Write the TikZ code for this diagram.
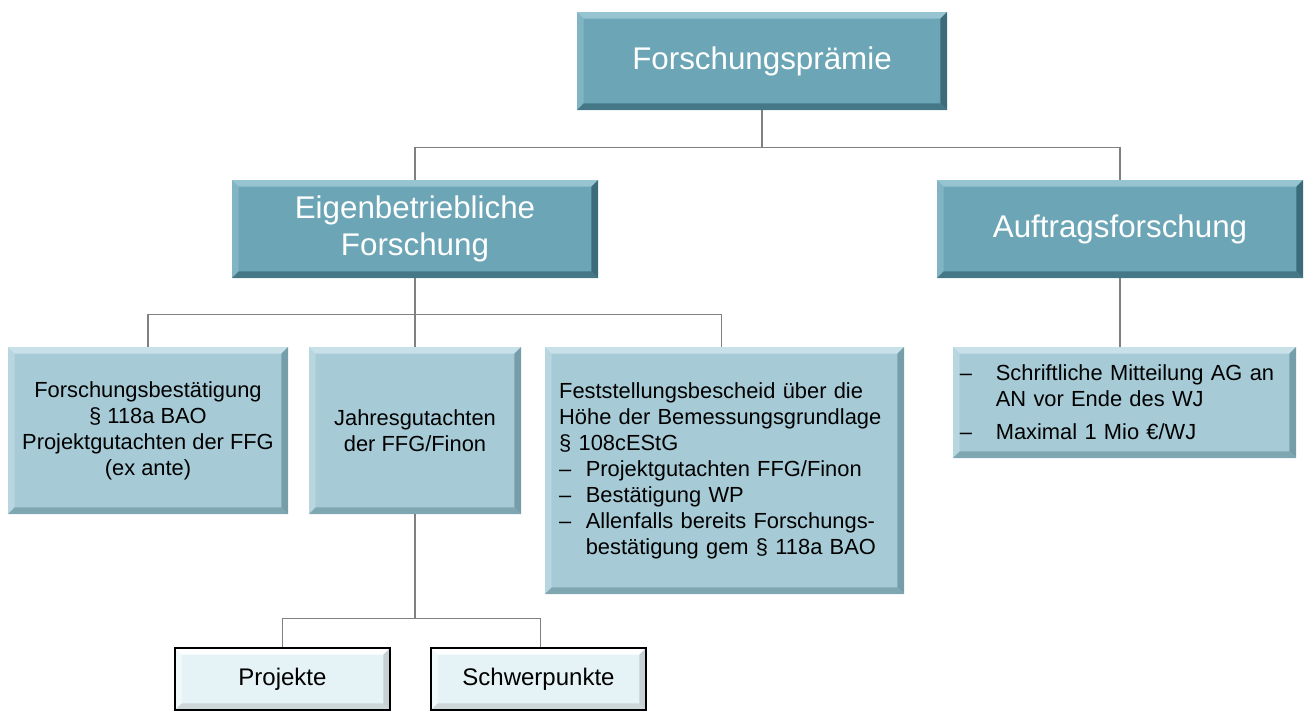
\documentclass[tikz,border=0pt]{standalone}
\usepackage{fontspec}
\setmainfont{Liberation Sans}
\usetikzlibrary{positioning}

\definecolor{tealmain}{RGB}{108,166,182}
\definecolor{teallight}{RGB}{150,196,208}
\definecolor{tealdark}{RGB}{60,108,122}
\definecolor{paleblue}{RGB}{166,203,214}
\definecolor{palelight}{RGB}{200,225,232}
\definecolor{paledark}{RGB}{118,158,170}
\definecolor{icefill}{RGB}{230,243,246}
\definecolor{linkgray}{RGB}{128,128,128}

\newcommand\headfont{\fontsize{23.5}{27.75}\selectfont}
\newcommand\bodyfont{\fontsize{16.4}{19.5}\selectfont}
\newcommand\leaffont{\fontsize{18}{21}\selectfont}
\newcommand\bul{\makebox[20pt][l]{--}}
\newcommand\bulw{\makebox[27pt][l]{--}}

\tikzset{
  bevel/.style 2 args = {path picture={
      \fill[#1] (path picture bounding box.north west) -- (path picture bounding box.north east)
        -- ([shift={(-5pt,-5pt)}]path picture bounding box.north east)
        -- ([shift={(5pt,-5pt)}]path picture bounding box.north west) -- cycle;
      \fill[#1,opacity=.5] (path picture bounding box.north west) -- ([shift={(5pt,-5pt)}]path picture bounding box.north west)
        -- ([shift={(5pt,5pt)}]path picture bounding box.south west) -- (path picture bounding box.south west) -- cycle;
      \fill[#2] (path picture bounding box.north east) -- (path picture bounding box.south east)
        -- ([shift={(-5pt,5pt)}]path picture bounding box.south east)
        -- ([shift={(-5pt,-5pt)}]path picture bounding box.north east) -- cycle;
      \fill[#2,opacity=.8] (path picture bounding box.south west) -- (path picture bounding box.south east)
        -- ([shift={(-5pt,5pt)}]path picture bounding box.south east)
        -- ([shift={(5pt,5pt)}]path picture bounding box.south west) -- cycle;
    }},
  box/.style      = {shape=rectangle, inner sep=0pt, align=center},
  head/.style     = {box, fill=tealmain, bevel={teallight}{tealdark}, text=white, font=\headfont,
                     minimum width=274.5pt, minimum height=73.5pt},
  detail/.style   = {box, fill=paleblue, bevel={palelight}{paledark}, text=black, font=\bodyfont,
                     minimum height=125.25pt},
  leaf/.style     = {box, fill=icefill, bevel={white}{icefill!70!gray}, draw=black, line width=1.5pt,
                     font=\leaffont, minimum width=161.25pt, minimum height=46.5pt},
  link/.style     = {draw=linkgray, line width=0.8pt}
}

\begin{document}
\begin{tikzpicture}[x=0.75pt, y=-0.75pt]
  \useasboundingbox (0,0) rectangle (1306,715);

  % top level
  \node [head, minimum width=277.5pt] (praemie) at (762,61) {Forschungspr\"amie};
  \node [head] (eigen)   at (415,229) {Eigenbetriebliche\\Forschung};
  \node [head] (auftrag) at (1120,229) {Auftragsforschung};

  % details
  \node [detail, minimum width=210pt] (bestaetigung) at (148,430.5)
    {Forschungsbest\"atigung\\\S\ 118a BAO\\Projektgutachten der FFG\\(ex ante)};
  \node [detail, minimum width=159pt] (jahres) at (415,430.5)
    {Jahresgutachten\\der FFG/Finon};
  \node [detail, minimum width=269.25pt, minimum height=185.25pt, align=left,
         text width=248pt, inner xsep=10.5pt] (bescheid) at (724.5,470.5)
    {Feststellungsbescheid \"uber die\\
     H\"ohe der Bemessungsgrundlage\\
     \S\ 108cEStG\\
     \bul Projektgutachten FFG/Finon\\
     \bul Best\"atigung WP\\
     \bul Allenfalls bereits Forschungs-\\
     \hspace*{20pt}best\"atigung gem \S\ 118a BAO};
  \node [detail, minimum width=257.25pt, minimum height=83.25pt, align=left,
         text width=247pt, inner xsep=5pt] (mitteilung) at (1124.5,402.5)
    {\bulw Schriftliche Mitteilung AG an\\
     \hspace*{27pt}AN vor Ende des WJ\\[5pt]
     \bulw Maximal 1 Mio \texteuro/WJ};

  % leaves
  \node [leaf] (projekte)     at (282.5,679) {Projekte};
  \node [leaf] (schwerpunkte) at (538.5,679) {Schwerpunkte};

  % connectors
  \draw [link] (praemie.south) -- ++(0,37) coordinate (j1);
  \draw [link] (j1) -| (eigen.north);
  \draw [link] (j1) -| (auftrag.north);
  \draw [link] (eigen.south) -- ++(0,36) coordinate (j2);
  \draw [link] (j2) -| (bestaetigung.north);
  \draw [link] (j2) -- (jahres.north);
  \draw [link] (j2) -| ([xshift=-2]bescheid.north);
  \draw [link] (auftrag.south) -- (auftrag.south |- mitteilung.north);
  \draw [link] (jahres.south) -- ++(0,104) coordinate (j3);
  \draw [link] (j3) -| (projekte.north);
  \draw [link] (j3) -| ([xshift=1.5]schwerpunkte.north);
\end{tikzpicture}
\end{document}
